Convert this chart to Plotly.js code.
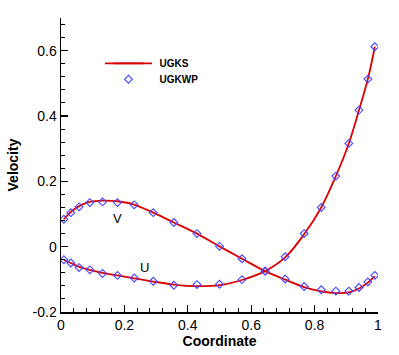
<!DOCTYPE html>
<html>
<head>
<meta charset="utf-8">
<script src="https://cdn.plot.ly/plotly-3.0.1.min.js"></script>
<style>html,body{margin:0;padding:0;background:#fff;}#chart{width:399px;height:355px;}</style>
</head>
<body>
<div id="chart"></div>
<script>
// Sample coordinates (UGKWP markers)
const coord = [0.009, 0.031, 0.057, 0.091, 0.131, 0.178, 0.231, 0.291, 0.356, 0.429, 0.500,
               0.571, 0.644, 0.707, 0.767, 0.821, 0.867, 0.908, 0.940, 0.968, 0.990];
// UGKWP values
const ugkwpU = [-0.040, -0.050, -0.064, -0.071, -0.082, -0.088, -0.096, -0.106, -0.118, -0.116, -0.115,
                -0.101, -0.075, -0.031, 0.040, 0.120, 0.216, 0.316, 0.418, 0.513, 0.612];
const ugkwpV = [0.084, 0.104, 0.122, 0.135, 0.137, 0.135, 0.128, 0.104, 0.074, 0.040, 0.001,
                -0.037, -0.075, -0.099, -0.122, -0.132, -0.136, -0.136, -0.125, -0.108, -0.088];
// UGKS values (line)
const ugksU = [-0.040, -0.050, -0.062, -0.071, -0.080, -0.088, -0.097, -0.107, -0.116, -0.121, -0.118,
               -0.102, -0.075, -0.033, 0.038, 0.120, 0.216, 0.316, 0.418, 0.513, 0.612];
const ugksV = [0.084, 0.106, 0.124, 0.137, 0.141, 0.139, 0.129, 0.104, 0.074, 0.040, 0.001,
               -0.037, -0.075, -0.101, -0.124, -0.137, -0.142, -0.140, -0.128, -0.110, -0.090];
const xTicks = [0, 0.2, 0.4, 0.6, 0.8, 1];
const xTickText = ['0', '0.2', '0.4', '0.6', '0.8', '1'];
const yTicks = [-0.2, 0, 0.2, 0.4, 0.6];
const yTickText = ['-0.2', '0', '0.2', '0.4', '0.6'];

const FONT = 'Liberation Sans, Arial, Helvetica, sans-serif';
const red = 'rgb(220,0,0)';
const blue = 'rgb(70,70,255)';
const pad = '\u00a0\u00a0\u00a0\u00a0';

const traces = [
  {x: coord, y: ugksU, mode: 'lines', line: {color: red, width: 1.8, shape: 'spline'},
   name: pad + '<b>UGKS</b>', legend: 'legend', showlegend: true},
  {x: coord, y: ugksV, mode: 'lines', line: {color: red, width: 1.8, shape: 'spline'},
   name: 'UGKS V', showlegend: false},
  {x: coord, y: ugkwpU, mode: 'markers', marker: {symbol: 'diamond-open', size: 6, color: blue, line: {width: 1.1, color: blue}},
   name: pad + '<b>UGKWP</b>', legend: 'legend2', showlegend: true},
  {x: coord, y: ugkwpV, mode: 'markers', marker: {symbol: 'diamond-open', size: 6, color: blue, line: {width: 1.1, color: blue}},
   name: 'UGKWP V', showlegend: false}
];

const axisCommon = {
  showgrid: false, zeroline: false, showline: true, linecolor: '#000', linewidth: 1.5,
  ticks: 'inside', ticklen: 7, tickwidth: 1.3, tickcolor: '#000',
  tickfont: {family: FONT, size: 14, color: '#000'},
  tickmode: 'array',
  minor: {dtick: 0.04, ticks: 'inside', ticklen: 4, tickwidth: 1, tickcolor: '#000', showgrid: false}
};

const layout = {
  width: 399, height: 355,
  margin: {l: 61, r: 21, t: 18, b: 43},
  paper_bgcolor: '#fff', plot_bgcolor: '#fff',
  font: {family: FONT, color: '#000'},
  xaxis: Object.assign({}, axisCommon, {
    range: [0, 1], tickvals: xTicks, ticktext: xTickText,
    title: {text: '<b>Coordinate</b>', font: {family: FONT, size: 14}, standoff: 2}
  }),
  yaxis: Object.assign({}, axisCommon, {
    range: [-0.2, 0.7], tickvals: yTicks, ticktext: yTickText,
    title: {text: '<b>Velocity</b>', font: {family: FONT, size: 14}, standoff: 10}
  }),
  legend: {x: 0.1498, y: 0.846, xanchor: 'left', yanchor: 'middle', bgcolor: 'rgba(0,0,0,0)',
           font: {family: FONT, size: 10}},
  legend2: {x: 0.1498, y: 0.7915, xanchor: 'left', yanchor: 'middle', bgcolor: 'rgba(0,0,0,0)',
           font: {family: FONT, size: 10}},
  shapes: [
    // lengthen the legend line sample to match the reference legend key
    {type: 'line', xref: 'paper', yref: 'paper', x0: 0.1388, x1: 0.2871, y0: 0.846, y1: 0.846,
     line: {color: red, width: 1.8}}
  ],
  annotations: [
    {x: 0.178, y: 0.087, xref: 'x', yref: 'y', text: 'V', showarrow: false, font: {family: FONT, size: 13}},
    {x: 0.263, y: -0.063, xref: 'x', yref: 'y', text: 'U', showarrow: false, font: {family: FONT, size: 13}}
  ]
};

Plotly.newPlot('chart', traces, layout, {displayModeBar: false, staticPlot: true});
</script>
</body>
</html>
